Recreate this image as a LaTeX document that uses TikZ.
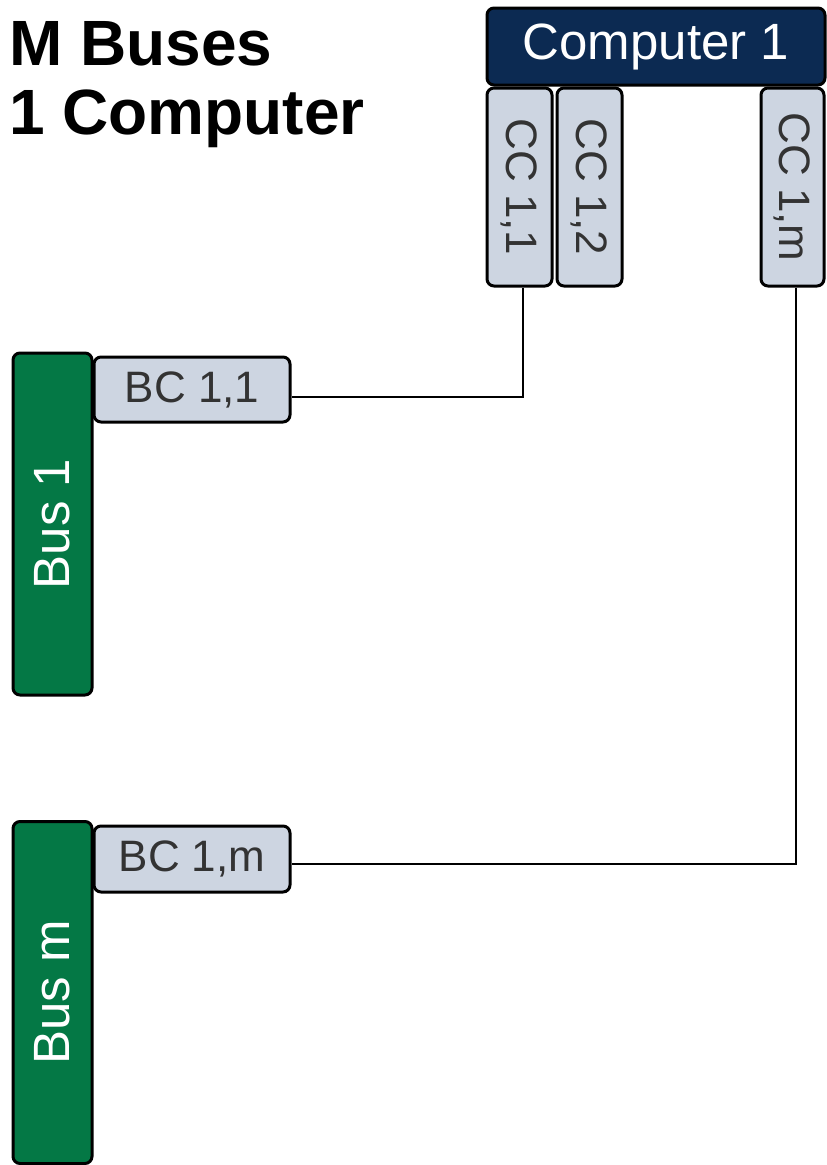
\documentclass[tikz,border=0pt]{standalone}
\usepackage{fontspec}
\setmainfont{Liberation Sans}
\definecolor{navy}{HTML}{0C2A52}
\definecolor{busgreen}{HTML}{047845}
\definecolor{cardfill}{HTML}{CDD5E1}
\definecolor{cardtext}{HTML}{333333}
\tikzset{
  box/.style={draw=black, line width=3pt, rounded corners=7pt, inner sep=0pt},
  computerbox/.style={box, fill=navy, text=white, minimum width=338pt, minimum height=77pt, font=\fontsize{51}{51}\selectfont},
  cardbox/.style={box, fill=cardfill, text=cardtext, font=\fontsize{44}{44}\selectfont},
  ccbox/.style={cardbox, rotate=-90, minimum width=198pt, minimum height=65pt},
  bcbox/.style={cardbox, minimum width=196pt, minimum height=65pt},
  busbox/.style={box, fill=busgreen, text=white, rotate=90, minimum width=342pt, minimum height=79pt, font=\fontsize{51}{51}\selectfont},
  wire/.style={draw=black, line width=2.7pt},
  titletext/.style={anchor=base west, inner sep=0pt, font=\fontsize{64}{64}\selectfont\bfseries}
}
\begin{document}
\begin{tikzpicture}[x=1pt,y=-1pt]
\useasboundingbox (0,0) rectangle (827,1165);
\node[titletext] (t1) at (9,65) {M Buses};
\node[titletext] (t2) at (9,134) {1 Computer};
\node[computerbox] (comp) at (656,46.5) {Computer 1};
\node[ccbox] (cc11) at (519.5,187) {CC 1,1};
\node[ccbox] (cc12) at (589.5,187) {CC 1,2};
\node[ccbox, minimum height=63pt] (cc1m) at (792.5,187) {CC 1,m};
\node[busbox] (bus1) at (52.5,524) {Bus 1};
\node[busbox] (busm) at (52.5,992.5) {Bus m};
\node[bcbox] (bc11) at (192,389.5) {BC 1,1};
\node[bcbox, minimum height=66pt] (bc1m) at (192,859) {BC 1,m};
\draw[wire] ([xshift=3.5pt]cc11.east) |- ([yshift=-7.5pt]bc11.east);
\draw[wire] ([xshift=3.5pt]cc1m.east) |- ([yshift=-5pt]bc1m.east);
\end{tikzpicture}
\end{document}
